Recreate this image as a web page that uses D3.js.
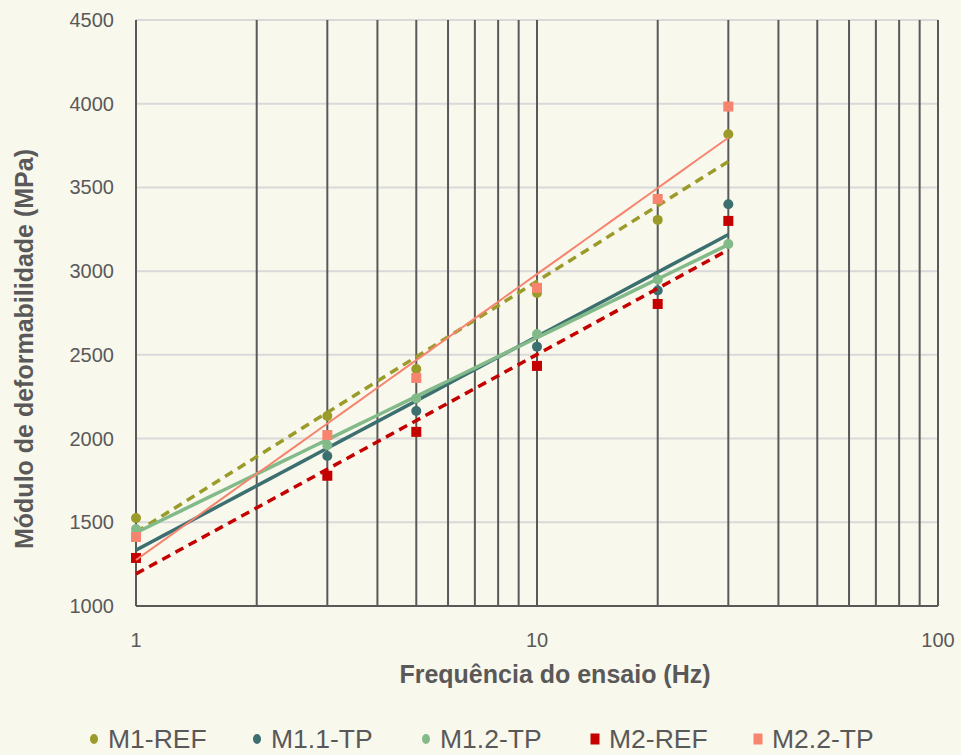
<!DOCTYPE html>
<html><head><meta charset="utf-8">
<script src="https://cdn.jsdelivr.net/npm/d3@7"></script>
<style>html,body{margin:0;padding:0;background:#f9f8ed;}svg{display:block;}</style>
</head><body>
<script>
const freq = [1, 3, 5, 10, 20, 30];
const m1ref = [1525, 2135, 2416, 2870, 3306, 3818];
const m11tp = [1430, 1896, 2165, 2549, 2884, 3400];
const m12tp = [1460, 1960, 2240, 2625, 2950, 3162];
const m2ref = [1287, 1778, 2040, 2434, 2804, 3300];
const m22tp = [1412, 2021, 2362, 2900, 3431, 3983];
const yTicks = [1000, 1500, 2000, 2500, 3000, 3500, 4000, 4500];
const xTicks = [1, 10, 100];

const series = [
  {name: "M1-REF", values: m1ref, color: "#9a9b29", shape: "circle", dash: "9,6", width: 3.5},
  {name: "M1.1-TP", values: m11tp, color: "#3c6f70", shape: "circle", dash: null, width: 3.5},
  {name: "M1.2-TP", values: m12tp, color: "#82ba89", shape: "circle", dash: null, width: 3.5},
  {name: "M2-REF", values: m2ref, color: "#c40000", shape: "square", dash: "9,6", width: 3.5},
  {name: "M2.2-TP", values: m22tp, color: "#f7846f", shape: "square", dash: null, width: 2}
];

const FONT = "Liberation Sans, Arial, sans-serif";
const W = 961, H = 755;
const svg = d3.select("body").append("svg").attr("width", W).attr("height", H);
svg.append("rect").attr("width", W).attr("height", H).attr("fill", "#f9f8ed");

const x = d3.scaleLog().domain([1, 100]).range([136, 938]);
const y = d3.scaleLinear().domain([1000, 4500]).range([606, 20]);

// horizontal gridlines
svg.append("g").selectAll("line").data(yTicks).join("line")
  .attr("x1", 136).attr("x2", 938)
  .attr("y1", d => y(d)).attr("y2", d => y(d))
  .attr("stroke", "#d9d9d9").attr("stroke-width", 2);

// vertical log gridlines
const vlines = [];
for (let dec = 1; dec < 100; dec *= 10) for (let k = 1; k <= 9; k++) vlines.push(dec * k);
vlines.push(100);
svg.append("g").selectAll("line").data(vlines).join("line")
  .attr("x1", d => x(d)).attr("x2", d => x(d))
  .attr("y1", y(4500)).attr("y2", y(1000))
  .attr("stroke", "#595959").attr("stroke-width", 2);

// x axis baseline
svg.append("line").attr("x1", 136).attr("x2", 938).attr("y1", y(1000)).attr("y2", y(1000))
  .attr("stroke", "#595959").attr("stroke-width", 2);

// y tick labels
svg.append("g").selectAll("text").data(yTicks).join("text")
  .attr("x", 114).attr("y", d => y(d)).attr("dy", "0.35em")
  .attr("text-anchor", "end").attr("font-family", FONT)
  .attr("font-size", 20).attr("fill", "#595959").text(d => d);

// x tick labels
svg.append("g").selectAll("text").data(xTicks).join("text")
  .attr("x", d => x(d)).attr("y", 640).attr("dy", "0.35em")
  .attr("text-anchor", "middle").attr("font-family", FONT)
  .attr("font-size", 20).attr("fill", "#595959").text(d => d);

// axis titles
svg.append("text").attr("x", 555).attr("y", 674).attr("dy", "0.35em")
  .attr("text-anchor", "middle").attr("font-family", FONT)
  .attr("font-size", 25).attr("font-weight", "bold").attr("fill", "#595959")
  .text("Frequência do ensaio (Hz)");
svg.append("text").attr("transform", `translate(24,${(y(1000)+y(4500))/2 + 36}) rotate(-90)`)
  .attr("dy", "0.35em").attr("text-anchor", "middle")
  .attr("font-family", FONT)
  .attr("font-size", 25).attr("font-weight", "bold").attr("fill", "#595959")
  .text("Módulo de deformabilidade (MPa)");

// log trendline fit y = a + b ln x
function logFit(xs, ys) {
  const lx = xs.map(Math.log);
  const mx = d3.mean(lx), my = d3.mean(ys);
  let sxy = 0, sxx = 0;
  lx.forEach((v, i) => { sxy += (v - mx) * (ys[i] - my); sxx += (v - mx) ** 2; });
  const b = sxy / sxx;
  return {a: my - b * mx, b};
}

const line = d3.line().x(d => x(d[0])).y(d => y(d[1]));

series.forEach(s => {
  const g = svg.append("g");
  const f = logFit(freq, s.values);
  const xs = [freq[0], freq[freq.length - 1]];
  const pts = d3.range(0, 41).map(i => {
    const xv = Math.exp(Math.log(xs[0]) + (Math.log(xs[1]) - Math.log(xs[0])) * i / 40);
    return [xv, f.a + f.b * Math.log(xv)];
  });
  const data = freq.map((f0, i) => [f0, s.values[i]]);
  if (s.shape === "circle") {
    g.selectAll("circle").data(data).join("circle")
      .attr("cx", d => x(d[0])).attr("cy", d => y(d[1])).attr("r", 5)
      .attr("fill", s.color);
  } else {
    g.selectAll("rect").data(data).join("rect")
      .attr("x", d => x(d[0]) - 5).attr("y", d => y(d[1]) - 5)
      .attr("width", 10).attr("height", 10).attr("fill", s.color);
  }
  g.append("path").datum(pts).attr("d", line).attr("fill", "none")
    .attr("stroke", s.color).attr("stroke-width", s.width)
    .attr("stroke-dasharray", s.dash);
});

// legend
const legX = [94, 257, 426, 595, 758];
const leg = svg.append("g");
series.forEach((s, i) => {
  const gx = legX[i], gy = 738;
  if (s.shape === "circle") {
    leg.append("ellipse").attr("cx", gx).attr("cy", gy + 1).attr("rx", 4).attr("ry", 5).attr("fill", s.color);
  } else {
    leg.append("rect").attr("x", gx - 4.5).attr("y", gy - 4.5).attr("width", 9).attr("height", 11).attr("fill", s.color);
  }
  leg.append("text").attr("x", gx + 14).attr("y", gy).attr("dy", "0.36em")
    .attr("font-family", FONT).attr("font-size", 26.5)
    .attr("fill", "#595959").text(s.name);
});
</script>
</body></html>
